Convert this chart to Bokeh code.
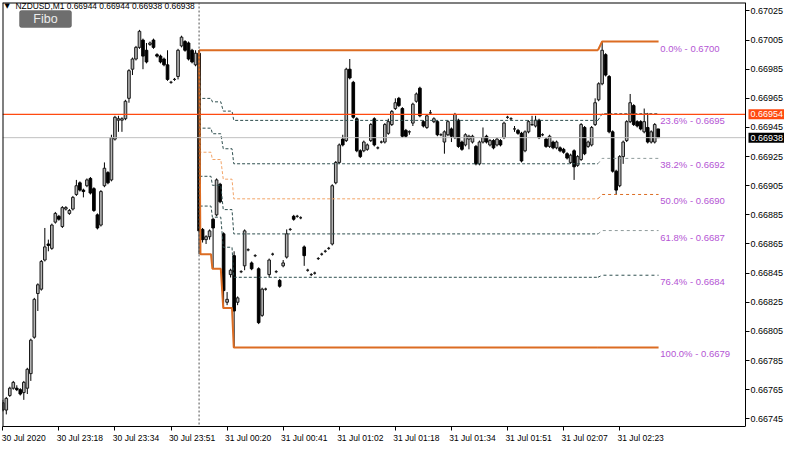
import numpy as np
from bokeh.plotting import figure
from bokeh.models import (ColumnDataSource, FixedTicker, PrintfTickFormatter, Span,
                          Label, BoxAnnotation, Range1d, LinearAxis)
from bokeh.core.properties import value
from bokeh.embed import file_html
from bokeh.resources import INLINE

# ---------------- data (NZDUSD M1) ----------------
open_ = [0.66751,0.66751,0.66761,0.66766,0.66766,0.66765,0.66763,0.66766,0.66776,0.66801,
         0.66831,0.66834,0.66854,0.66865,0.66862,0.66880,0.66884,0.66877,0.66889,0.66886,
         0.66889,0.66899,0.66907,0.66902,0.66905,0.66910,0.66903,0.66885,0.66878,0.66905,
         0.66914,0.66909,0.66937,0.66950,0.66950,0.66951,0.66965,0.66985,0.66992,0.67000,
         0.67005,0.66998,0.67002,0.67005,0.66995,0.66994,0.66992,0.66988,0.66976,0.66978,
         0.66980,0.67001,0.67004,0.67003,0.66998,0.66988,0.66996,0.66875,0.66868,0.66870,
         0.66882,0.66885,0.66906,0.66872,0.66825,0.66844,0.66857,0.66825,0.66846,0.66850,
         0.66861,0.66852,0.66857,0.66848,0.66816,0.66834,0.66844,0.66858,0.66846,0.66840,
         0.66850,0.66856,0.66875,0.66884,0.66884,0.66883,0.66863,0.66847,0.66844,0.66845,
         0.66855,0.66858,0.66860,0.66862,0.66865,0.66907,0.66921,0.66937,0.66936,0.66985,
         0.66976,0.66951,0.66929,0.66929,0.66930,0.66936,0.66951,0.66931,0.66935,0.66935,
         0.66941,0.66947,0.66958,0.66965,0.66958,0.66943,0.66942,0.66948,0.66963,0.66972,
         0.66949,0.66945,0.66955,0.66949,0.66949,0.66940,0.66935,0.66940,0.66944,0.66938,
         0.66950,0.66935,0.66933,0.66937,0.66935,0.66932,0.66920,0.66935,0.66939,0.66933,
         0.66936,0.66933,0.66936,0.66938,0.66952,0.66951,0.66944,0.66943,0.66941,0.66929,
         0.66942,0.66947,0.66946,0.66950,0.66940,0.66937,0.66932,0.66935,0.66931,0.66931,
         0.66930,0.66927,0.66921,0.66929,0.66919,0.66923,0.66945,0.66932,0.66933,0.66947,
         0.66964,0.66975,0.66995,0.66980,0.66942,0.66915,0.66905,0.66925,0.66936,0.66949,
         0.66960,0.66949,0.66949,0.66942,0.66945,0.66935,0.66935,0.66944]
high = [0.66758,0.66760,0.66767,0.66771,0.66768,0.66766,0.66771,0.66780,0.66800,0.66828,
        0.66838,0.66854,0.66876,0.66868,0.66879,0.66887,0.66885,0.66891,0.66891,0.66889,
        0.66898,0.66909,0.66908,0.66903,0.66910,0.66911,0.66904,0.66886,0.66902,0.66921,
        0.66915,0.66940,0.66953,0.66953,0.66952,0.66964,0.66985,0.66993,0.67001,0.67012,
        0.67006,0.67003,0.67004,0.67006,0.66996,0.66995,0.66993,0.66998,0.66977,0.66979,
        0.66999,0.67008,0.67005,0.67004,0.66999,0.66998,0.66998,0.66876,0.66871,0.66875,
        0.66883,0.66910,0.66907,0.66873,0.66832,0.66848,0.66860,0.66829,0.66847,0.66875,
        0.66862,0.66853,0.66858,0.66849,0.66835,0.66835,0.66855,0.66859,0.66847,0.66841,
        0.66854,0.66875,0.66876,0.66885,0.66885,0.66884,0.66864,0.66848,0.66845,0.66846,
        0.66856,0.66859,0.66861,0.66863,0.66906,0.66922,0.66934,0.66940,0.66986,0.66992,
        0.66977,0.66952,0.66930,0.66936,0.66934,0.66948,0.66952,0.66932,0.66936,0.66948,
        0.66951,0.66957,0.66965,0.66966,0.66959,0.66944,0.66943,0.66962,0.66969,0.66973,
        0.66950,0.66954,0.66957,0.66952,0.66950,0.66941,0.66943,0.66950,0.66945,0.66955,
        0.66951,0.66936,0.66941,0.66940,0.66940,0.66933,0.66936,0.66945,0.66940,0.66937,
        0.66937,0.66938,0.66937,0.66949,0.66953,0.66952,0.66946,0.66944,0.66942,0.66943,
        0.66950,0.66953,0.66953,0.66951,0.66941,0.66938,0.66940,0.66936,0.66936,0.66932,
        0.66931,0.66928,0.66927,0.66930,0.66926,0.66948,0.66946,0.66936,0.66946,0.66965,
        0.66976,0.67004,0.66996,0.66981,0.66943,0.66916,0.66926,0.66936,0.66950,0.66968,
        0.66961,0.66950,0.66950,0.66958,0.66955,0.66943,0.66948,0.66944]
low = [0.66750,0.66748,0.66760,0.66765,0.66764,0.66761,0.66758,0.66762,0.66771,0.66800,
       0.66819,0.66833,0.66853,0.66860,0.66861,0.66879,0.66881,0.66876,0.66888,0.66885,
       0.66888,0.66898,0.66901,0.66897,0.66904,0.66899,0.66887,0.66875,0.66877,0.66904,
       0.66906,0.66908,0.66936,0.66942,0.66942,0.66950,0.66962,0.66981,0.66991,0.66999,
       0.66985,0.66989,0.67001,0.66999,0.66993,0.66989,0.66987,0.66977,0.66975,0.66977,
       0.66978,0.67000,0.66997,0.66991,0.66989,0.66987,0.66858,0.66866,0.66865,0.66868,
       0.66848,0.66884,0.66893,0.66821,0.66823,0.66842,0.66794,0.66823,0.66845,0.66847,
       0.66860,0.66847,0.66856,0.66810,0.66815,0.66833,0.66842,0.66857,0.66845,0.66835,
       0.66849,0.66855,0.66874,0.66881,0.66883,0.66882,0.66850,0.66846,0.66843,0.66844,
       0.66854,0.66857,0.66859,0.66861,0.66864,0.66906,0.66920,0.66932,0.66935,0.66978,
       0.66951,0.66928,0.66924,0.66928,0.66929,0.66935,0.66932,0.66930,0.66934,0.66934,
       0.66940,0.66946,0.66957,0.66959,0.66938,0.66938,0.66940,0.66946,0.66962,0.66952,
       0.66945,0.66944,0.66954,0.66948,0.66939,0.66939,0.66927,0.66939,0.66935,0.66937,
       0.66931,0.66929,0.66932,0.66930,0.66934,0.66919,0.66919,0.66934,0.66934,0.66932,
       0.66930,0.66932,0.66932,0.66937,0.66951,0.66950,0.66942,0.66940,0.66921,0.66928,
       0.66941,0.66946,0.66945,0.66937,0.66939,0.66931,0.66931,0.66930,0.66930,0.66928,
       0.66927,0.66923,0.66920,0.66909,0.66918,0.66922,0.66926,0.66931,0.66932,0.66946,
       0.66963,0.66974,0.66980,0.66941,0.66914,0.66899,0.66904,0.66920,0.66935,0.66948,
       0.66946,0.66945,0.66943,0.66941,0.66934,0.66934,0.66934,0.66938]
close = [0.66756,0.66759,0.66766,0.66770,0.66765,0.66762,0.66770,0.66779,0.66799,0.66827,
         0.66837,0.66853,0.66863,0.66864,0.66878,0.66886,0.66882,0.66890,0.66890,0.66888,
         0.66897,0.66905,0.66902,0.66901,0.66909,0.66900,0.66888,0.66876,0.66901,0.66917,
         0.66907,0.66938,0.66952,0.66951,0.66951,0.66963,0.66984,0.66992,0.67000,0.67011,
         0.66994,0.66990,0.67003,0.67000,0.66994,0.66990,0.66988,0.66978,0.66976,0.66978,
         0.66998,0.67007,0.66998,0.66992,0.66990,0.66996,0.66874,0.66868,0.66870,0.66874,
         0.66876,0.66909,0.66894,0.66833,0.66827,0.66847,0.66819,0.66828,0.66846,0.66874,
         0.66861,0.66848,0.66857,0.66811,0.66834,0.66834,0.66854,0.66858,0.66846,0.66836,
         0.66852,0.66872,0.66875,0.66882,0.66884,0.66883,0.66857,0.66847,0.66844,0.66845,
         0.66855,0.66858,0.66860,0.66862,0.66905,0.66921,0.66933,0.66933,0.66985,0.66979,
         0.66952,0.66929,0.66925,0.66935,0.66933,0.66947,0.66933,0.66931,0.66935,0.66947,
         0.66949,0.66956,0.66962,0.66960,0.66939,0.66939,0.66942,0.66961,0.66968,0.66953,
         0.66946,0.66953,0.66955,0.66951,0.66940,0.66940,0.66942,0.66949,0.66939,0.66954,
         0.66932,0.66930,0.66940,0.66939,0.66939,0.66920,0.66935,0.66938,0.66935,0.66936,
         0.66931,0.66937,0.66933,0.66948,0.66952,0.66951,0.66944,0.66941,0.66922,0.66942,
         0.66949,0.66947,0.66950,0.66938,0.66940,0.66932,0.66939,0.66931,0.66935,0.66929,
         0.66928,0.66924,0.66926,0.66918,0.66925,0.66947,0.66927,0.66935,0.66945,0.66962,
         0.66975,0.66998,0.66981,0.66942,0.66915,0.66902,0.66925,0.66935,0.66949,0.66962,
         0.66947,0.66946,0.66944,0.66949,0.66935,0.66942,0.66947,0.66938]

x_tick_bars = [0, 16, 32, 48, 64, 80, 96, 112, 128, 144, 160, 176]
x_tick_labels = ["30 Jul 2020", "30 Jul 23:18", "30 Jul 23:34", "30 Jul 23:51",
                 "31 Jul 00:20", "31 Jul 00:41", "31 Jul 01:02", "31 Jul 01:18",
                 "31 Jul 01:34", "31 Jul 01:51", "31 Jul 02:07", "31 Jul 02:23"]
y_ticks = [0.67025, 0.67005, 0.66985, 0.66965, 0.66945, 0.66925, 0.66905, 0.66885,
           0.66865, 0.66845, 0.66825, 0.66805, 0.66785, 0.66765, 0.66745]

# Fibonacci object (anchor bar, moving 100% and 0% anchors)
fib_anchor_bar = 56
fib_low_bars = [56.0, 56.4, 59.4, 59.8, 62.2, 62.9, 65.4, 65.9, 187.1]
fib_low_prices = [0.66998, 0.66858, 0.66858, 0.66848, 0.66848, 0.66821, 0.66821, 0.66794, 0.66794]
fib_high_bars = [56.0, 169.8, 171.0, 187.1]
fib_high_prices = [0.66998, 0.66998, 0.67004, 0.67004]
fib_ratios = [0.0, 0.236, 0.382, 0.5, 0.618, 0.764, 1.0]
fib_split_bar = 169.8

hline_price = 0.66954
bid_price = 0.66938
header_text = "NZDUSD,M1  0.66944 0.66944 0.66938 0.66938"

# ---------------- styles ----------------
FONT = "Liberation Sans"
ORANGE = "#dc6c22"
SLATE = "#2f4f4f"
SANDY = "#f2a468"
GREYL = "#8e9a9a"
PURPLE = "#b455d4"
RED = "#ff4a10"

left_style = {0.0: (ORANGE, 2, "solid"), 0.236: (SLATE, 1, "3 2"), 0.382: (SLATE, 1, "3 2"),
              0.5: (SANDY, 1, "3 2"), 0.618: (SLATE, 1, "3 2"), 0.764: (SLATE, 1, "3 2"),
              1.0: (ORANGE, 2, "solid")}
right_style = {0.0: (ORANGE, 2, "solid"), 0.236: (SLATE, 1, "3 2"), 0.382: (GREYL, 1, "3 3"),
               0.5: (ORANGE, 1, "3 3"), 0.618: (GREYL, 1, "3 3"), 0.764: (SLATE, 1, "3 3"),
               1.0: (ORANGE, 2, "solid")}

# ---------------- layout ----------------
W, H = 784, 445
BORDER_LEFT, BORDER_TOP, BORDER_BOTTOM = 2, 2, 16
PLOT_W = 743                      # width of the price area; the scale lives to its right
FRAME_W = W - BORDER_LEFT         # frame also hosts the price scale
FRAME_H = H - BORDER_TOP - BORDER_BOTTOM
X_MIN, X_END = -0.08, 211.9       # visible bars in the price area
X_MAX = X_MIN + (X_END - X_MIN) * FRAME_W / PLOT_W
Y_MIN, Y_MAX = 0.667397, 0.670308

p = figure(width=W, height=H,
           x_range=Range1d(X_MIN, X_MAX), y_range=Range1d(Y_MIN, Y_MAX),
           output_backend="svg", toolbar_location=None, y_axis_location=None,
           min_border_left=BORDER_LEFT, min_border_top=BORDER_TOP, min_border_right=0,
           min_border_bottom=BORDER_BOTTOM)
p.xgrid.visible = False
p.ygrid.visible = False
p.outline_line_color = None
p.background_fill_color = "white"
p.border_fill_color = "white"

# ---------------- candles ----------------
bars = list(range(len(open_)))
bull = [i for i in bars if close[i] >= open_[i]]
bear = [i for i in bars if close[i] < open_[i]]

p.segment(x0=bars, y0=low, x1=bars, y1=high, line_color="#000000", line_width=1)
src_bull = ColumnDataSource(dict(x=bull, top=[close[i] for i in bull], bottom=[open_[i] for i in bull]))
src_bear = ColumnDataSource(dict(x=bear, top=[open_[i] for i in bear], bottom=[close[i] for i in bear]))
p.vbar(x="x", top="top", bottom="bottom", width=0.75, source=src_bull,
       fill_color="#b4b4b4", line_color="#1a1a1a", line_width=1)
p.vbar(x="x", top="top", bottom="bottom", width=0.75, source=src_bear,
       fill_color="#000000", line_color="#000000", line_width=1)

# ---------------- fibo ----------------
xs = np.array(sorted(set(fib_low_bars + fib_high_bars)))
hi = np.interp(xs, fib_high_bars, fib_high_prices)
lo = np.interp(xs, fib_low_bars, fib_low_prices)
left_mask = xs <= fib_split_bar
right_mask = xs >= fib_split_bar
labels_y, labels_t = [], []
for r in fib_ratios:
    lev = hi - r * (hi - lo)
    c, w, d = left_style[r]
    p.line(xs[left_mask], lev[left_mask], line_color=c, line_width=w, line_dash=d)
    c, w, d = right_style[r]
    p.line(xs[right_mask], lev[right_mask], line_color=c, line_width=w, line_dash=d)
    labels_y.append(lev[-1])
    labels_t.append(f"{r * 100:.1f}% - {lev[-1]:.4f}")

p.text(x=[xs[-1] + 0.5] * len(labels_y), y=labels_y, text=labels_t,
       text_font=value(FONT), text_font_size="9.5px", text_color=PURPLE,
       text_baseline="top", text_align="left", y_offset=1)

# ---------------- horizontal / vertical lines ----------------
p.add_layout(Span(location=fib_anchor_bar, dimension="height", line_color="#505050",
                  line_width=1, line_dash="2 2"))
p.segment(x0=[X_MIN], y0=[bid_price], x1=[X_END], y1=[bid_price], line_color="#c0c0c0", line_width=1)
p.segment(x0=[X_MIN], y0=[hline_price], x1=[X_END], y1=[hline_price], line_color=RED, line_width=1.3)

# border of the price area (left, top, right); bottom is the x axis line
p.add_layout(Span(location=X_MIN, dimension="height", line_color="#000000", line_width=2))
p.add_layout(Span(location=X_END, dimension="height", line_color="#000000", line_width=1))
p.segment(x0=[X_MIN], y0=[Y_MAX], x1=[X_END], y1=[Y_MAX], line_color="#000000", line_width=2)

# ---------------- x axis ----------------
xa = p.xaxis[0]
xa.bounds = (X_MIN, X_END)
xa.ticker = FixedTicker(ticks=[b + 6 for b in x_tick_bars], minor_ticks=x_tick_bars)
xa.major_label_overrides = {b + 6: lab for b, lab in zip(x_tick_bars, x_tick_labels)}
xa.major_tick_line_color = None
xa.major_tick_out = 4
xa.major_tick_in = 0
xa.minor_tick_line_color = "#000000"
xa.minor_tick_out = 4
xa.minor_tick_in = 0
xa.major_label_standoff = 2
xa.major_label_text_font = FONT
xa.major_label_text_font_size = "8.5px"
xa.major_label_text_color = "#000000"
xa.axis_line_color = "#000000"

# ---------------- right price scale (pinned at the price-area edge) ----------------
ya = LinearAxis(fixed_location=X_END, ticker=FixedTicker(ticks=y_ticks),
                formatter=PrintfTickFormatter(format="%.5f"))
ya.axis_line_color = None
ya.major_tick_out = 4
ya.major_tick_in = 0
ya.major_tick_line_color = "#000000"
ya.minor_tick_line_color = None
ya.major_label_standoff = 1
ya.major_label_text_font = FONT
ya.major_label_text_font_size = "9px"
ya.major_label_text_color = "#000000"
p.add_layout(ya, "right")

# price tags
for price, color in [(hline_price, RED), (bid_price, "#000000")]:
    p.add_layout(Label(x=X_END, y=price, x_units="data", y_units="data", x_offset=3,
                       text=f"{price:.5f}", text_font=FONT, text_font_size="9px",
                       text_color="white", text_baseline="middle", text_align="left",
                       background_fill_color=color, background_fill_alpha=1.0, padding=2))

# ---------------- header + Fibo button ----------------
p.add_layout(Label(x=2, y=FRAME_H - 6, x_units="screen", y_units="screen", text="▼",
                   text_font="DejaVu Sans", text_font_size="7px", text_color="#000000",
                   text_baseline="middle"))
p.add_layout(Label(x=13, y=FRAME_H - 6, x_units="screen", y_units="screen", text=header_text,
                   text_font=FONT, text_font_size="8.4px", text_color="#000000",
                   text_baseline="middle"))
p.add_layout(BoxAnnotation(left=17, right=69, top=FRAME_H - 11, bottom=FRAME_H - 28,
                           left_units="screen", right_units="screen",
                           top_units="screen", bottom_units="screen",
                           fill_color="#6e6e6e", fill_alpha=1.0, line_color="#3a3a3a",
                           line_width=1, border_radius=2))
p.add_layout(Label(x=43, y=FRAME_H - 19.5, x_units="screen", y_units="screen", text="Fibo",
                   text_font=FONT, text_font_size="12.5px", text_color="#ececec",
                   text_align="center", text_baseline="middle"))

open("out.html", "w").write(file_html(p, INLINE))
